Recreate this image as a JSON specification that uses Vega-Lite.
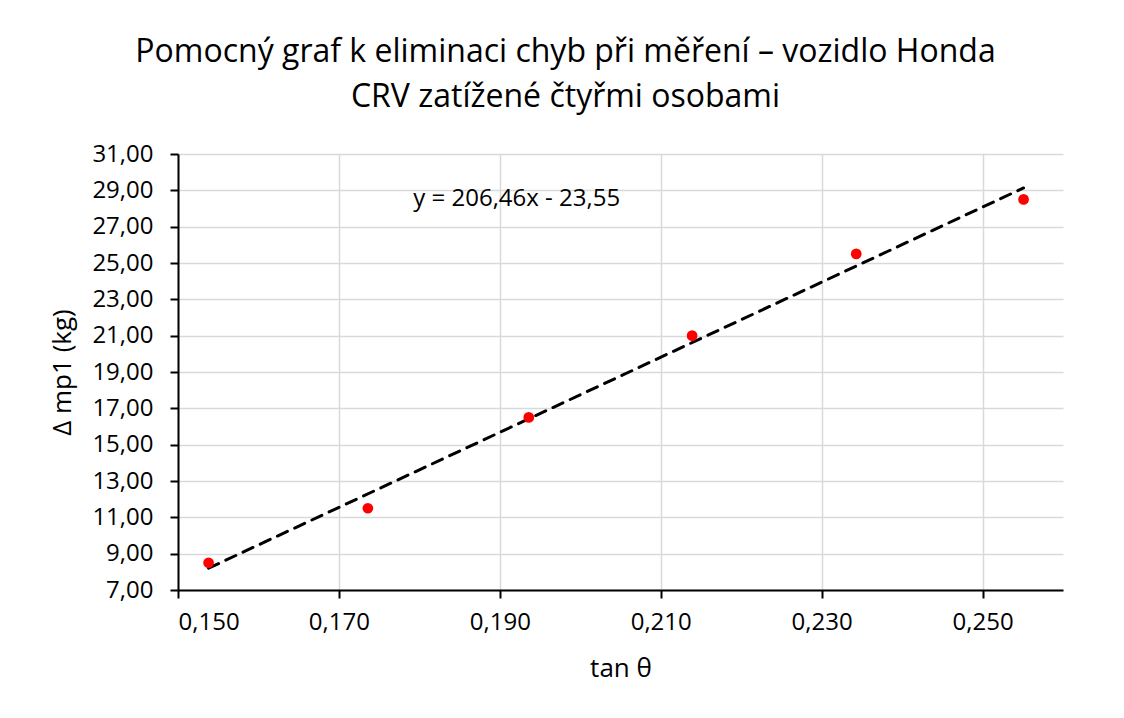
{
  "$schema": "https://vega.github.io/schema/vega-lite/v6.json",
  "autosize": "none",
  "width": 885,
  "height": 436,
  "padding": {"left": 178, "top": 154, "right": 61, "bottom": 128},
  "background": "white",
  "title": {
    "text": ["Pomocný graf k eliminaci chyb při měření – vozidlo Honda", "CRV zatížené čtyřmi osobami"],
    "font": "Open Sans",
    "fontSize": 32,
    "fontWeight": "normal",
    "color": "#000000",
    "lineHeight": 45,
    "anchor": "middle",
    "frame": "group",
    "dx": -55,
    "offset": 28
  },
  "datasets": {
    "pts": [
      {"tan": 0.1538, "mp": 8.5},
      {"tan": 0.1736, "mp": 11.5},
      {"tan": 0.1936, "mp": 16.5},
      {"tan": 0.2139, "mp": 21.0},
      {"tan": 0.2343, "mp": 25.5},
      {"tan": 0.2551, "mp": 28.5}
    ],
    "eq": [
      {"tan": 0.1921, "mp": 28.14, "label": "y = 206,46x - 23,55"}
    ]
  },
  "layer": [
    {
      "data": {"name": "pts"},
      "transform": [{"regression": "mp", "on": "tan"}],
      "mark": {"type": "line", "color": "black", "strokeWidth": 3, "strokeDash": [11, 8], "strokeCap": "round"},
      "encoding": {
        "x": {"field": "tan", "type": "quantitative"},
        "y": {"field": "mp", "type": "quantitative"}
      }
    },
    {
      "data": {"name": "pts"},
      "mark": {"type": "point", "filled": true, "shape": "circle", "color": "#ff0000", "opacity": 1, "size": 115},
      "encoding": {
        "x": {
          "field": "tan",
          "type": "quantitative",
          "scale": {"domain": [0.15, 0.26], "nice": false, "zero": false},
          "axis": {
            "title": "tan θ",
            "values": [0.15, 0.17, 0.19, 0.21, 0.23, 0.25],
            "tickCount": 30,
            "labelExpr": "replace(format(datum.value, '.3f'), '.', ',')",
            "titlePadding": 21
          }
        },
        "y": {
          "field": "mp",
          "type": "quantitative",
          "scale": {"domain": [7, 31], "nice": false, "zero": false},
          "axis": {
            "title": "Δ mp1 (kg)",
            "values": [7, 9, 11, 13, 15, 17, 19, 21, 23, 25, 27, 29, 31],
            "tickCount": 30,
            "labelExpr": "replace(format(datum.value, '.2f'), '.', ',')",
            "titlePadding": 16
          }
        }
      }
    },
    {
      "data": {"name": "eq"},
      "mark": {"type": "text", "font": "Open Sans", "fontSize": 24, "color": "black", "align": "center", "baseline": "alphabetic"},
      "encoding": {
        "x": {"field": "tan", "type": "quantitative"},
        "y": {"field": "mp", "type": "quantitative"},
        "text": {"field": "label"}
      }
    }
  ],
  "config": {
    "view": {"stroke": null},
    "axis": {
      "labelFont": "Open Sans",
      "labelFontSize": 24,
      "labelColor": "#000000",
      "labelOverlap": false,
      "titleFont": "Open Sans",
      "titleFontSize": 26,
      "titleFontWeight": "normal",
      "titleColor": "#000000",
      "domainColor": "#000000",
      "domainWidth": 2,
      "tickColor": "#000000",
      "tickWidth": 2,
      "tickSize": 8,
      "gridColor": "#d9d9d9",
      "gridWidth": 1.5,
      "labelPadding": 12
    },
    "axisY": {"labelPadding": 17}
  }
}
